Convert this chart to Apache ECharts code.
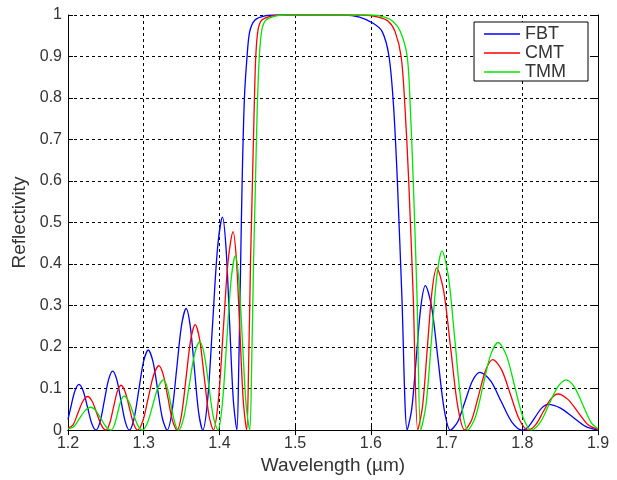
<!DOCTYPE html>
<html>
<head>
<meta charset="utf-8">
<script src="https://cdn.jsdelivr.net/npm/echarts@6/dist/echarts.min.js"></script>
<style>
  html, body { margin: 0; padding: 0; background: #fff; }
  #chart { width: 617px; height: 480px; }
</style>
</head>
<body>
<div id="chart"></div>
<script>
// wavelength (um) / reflectivity pairs
const fbtData = [
  [1.200, 0.026], [1.2037, 0.055], [1.2091, 0.094], [1.2145, 0.11],
  [1.2201, 0.094], [1.2258, 0.055], [1.2314, 0.016], [1.237, 0.0],
  [1.2425, 0.021], [1.248, 0.071], [1.2535, 0.121], [1.259, 0.142],
  [1.2645, 0.121], [1.270, 0.071], [1.2755, 0.021], [1.281, 0.0],
  [1.28725, 0.028], [1.2935, 0.0965], [1.29975, 0.165], [1.306, 0.193],
  [1.31225, 0.165], [1.3185, 0.0965], [1.32475, 0.028], [1.331, 0.0],
  [1.33725, 0.043], [1.3435, 0.1465], [1.34975, 0.25], [1.356, 0.293],
  [1.3615, 0.25], [1.367, 0.1465], [1.3725, 0.043], [1.378, 0.0],
  [1.3845, 0.075], [1.391, 0.2565], [1.3975, 0.438], [1.404, 0.513],
  [1.40875, 0.438], [1.4135, 0.2565], [1.41825, 0.075], [1.423, 0.0],
  [1.4255, 0.15], [1.428, 0.4], [1.430, 0.6], [1.433, 0.8], [1.4365, 0.9],
  [1.440, 0.96], [1.447, 0.988], [1.460, 0.998], [1.475, 1.0],
  [1.565, 1.0], [1.585, 0.995], [1.603, 0.98], [1.615, 0.96], [1.624, 0.9],
  [1.630, 0.78], [1.635, 0.6], [1.641, 0.32], [1.648, 0.0],
  [1.654, 0.051], [1.660, 0.174], [1.666, 0.297], [1.672, 0.348],
  [1.68025, 0.297], [1.6885, 0.174], [1.69675, 0.051], [1.705, 0.0],
  [1.71475, 0.020], [1.7245, 0.0695], [1.73425, 0.119], [1.744, 0.139],
  [1.758, 0.119], [1.772, 0.0695], [1.786, 0.020], [1.800, 0.0],
  [1.8085, 0.009], [1.817, 0.031], [1.8255, 0.053], [1.834, 0.062],
  [1.8505, 0.053], [1.867, 0.031], [1.8835, 0.009], [1.900, 0.0]
];
const cmtData = [
  [1.200, 0.005], [1.2065, 0.012], [1.213, 0.0405], [1.2195, 0.069], [1.226, 0.081],
  [1.232, 0.069], [1.238, 0.0405], [1.244, 0.012], [1.250, 0.0],
  [1.255, 0.016], [1.260, 0.054], [1.265, 0.092], [1.270, 0.108],
  [1.2755, 0.092], [1.281, 0.054], [1.2865, 0.016], [1.292, 0.0],
  [1.299, 0.023], [1.306, 0.0775], [1.313, 0.132], [1.320, 0.155],
  [1.326, 0.132], [1.332, 0.0775], [1.338, 0.023], [1.344, 0.0],
  [1.350, 0.037], [1.356, 0.127], [1.362, 0.217], [1.368, 0.254],
  [1.374, 0.217], [1.380, 0.127], [1.386, 0.037], [1.392, 0.0],
  [1.3985, 0.070], [1.405, 0.239], [1.4115, 0.408], [1.418, 0.478],
  [1.4225, 0.408], [1.427, 0.239], [1.4315, 0.070], [1.436, 0.0],
  [1.4385, 0.15], [1.441, 0.4], [1.443, 0.55], [1.446, 0.78], [1.448, 0.9],
  [1.451, 0.964], [1.456, 0.988], [1.470, 0.998], [1.485, 1.0],
  [1.590, 1.0], [1.610, 0.995], [1.623, 0.985], [1.632, 0.96], [1.640, 0.9],
  [1.645, 0.78], [1.650, 0.6], [1.656, 0.32], [1.662, 0.0],
  [1.66825, 0.057], [1.6745, 0.1955], [1.68075, 0.334], [1.687, 0.391],
  [1.69625, 0.334], [1.7055, 0.1955], [1.71475, 0.057], [1.724, 0.0],
  [1.73325, 0.025], [1.7425, 0.085], [1.75175, 0.145], [1.761, 0.170],
  [1.77275, 0.145], [1.7845, 0.085], [1.79625, 0.025], [1.808, 0.0],
  [1.81775, 0.013], [1.8275, 0.0435], [1.83725, 0.074], [1.847, 0.087],
  [1.86025, 0.074], [1.8735, 0.0435], [1.88675, 0.013], [1.900, 0.002]
];
const tmmData = [
  [1.200, 0.003], [1.2075, 0.008], [1.215, 0.0275], [1.2225, 0.047], [1.230, 0.055],
  [1.23675, 0.047], [1.2435, 0.0275], [1.25025, 0.008], [1.257, 0.0],
  [1.26125, 0.012], [1.2655, 0.041], [1.26975, 0.070], [1.274, 0.082],
  [1.280, 0.070], [1.286, 0.041], [1.292, 0.012], [1.298, 0.0],
  [1.305, 0.018], [1.312, 0.0605], [1.319, 0.103], [1.326, 0.121],
  [1.331, 0.103], [1.336, 0.0605], [1.341, 0.018], [1.346, 0.0],
  [1.353, 0.031], [1.360, 0.1065], [1.367, 0.182], [1.374, 0.213],
  [1.380, 0.182], [1.386, 0.1065], [1.392, 0.031], [1.398, 0.0],
  [1.40375, 0.061], [1.4095, 0.21], [1.41525, 0.359], [1.421, 0.42],
  [1.42575, 0.359], [1.4305, 0.21], [1.43525, 0.061], [1.440, 0.0],
  [1.4425, 0.15], [1.445, 0.4], [1.447, 0.55], [1.450, 0.78], [1.4527, 0.9],
  [1.456, 0.964], [1.4615, 0.988], [1.475, 0.998], [1.490, 1.0],
  [1.602, 1.0], [1.618, 0.995], [1.629, 0.985], [1.639, 0.96], [1.648, 0.9],
  [1.652, 0.78], [1.656, 0.6], [1.661, 0.32], [1.666, 0.0],
  [1.673, 0.063], [1.680, 0.216], [1.687, 0.369], [1.694, 0.432],
  [1.7025, 0.369], [1.711, 0.216], [1.7195, 0.063], [1.728, 0.0],
  [1.738, 0.031], [1.748, 0.1055], [1.758, 0.180], [1.768, 0.211],
  [1.779, 0.180], [1.790, 0.1055], [1.801, 0.031], [1.812, 0.0],
  [1.8235, 0.018], [1.835, 0.0605], [1.8465, 0.103], [1.858, 0.121],
  [1.869, 0.103], [1.880, 0.0605], [1.891, 0.018], [1.900, 0.003]
];
const seriesNames = ['FBT', 'CMT', 'TMM'];
const seriesColors = ['#0000ff', '#ff0000', '#00e600'];

const chart = echarts.init(document.getElementById('chart'));

const fontFamily = 'Liberation Sans, Arial, sans-serif';
const gridLine = { show: true, lineStyle: { color: '#000', type: [3, 3], width: 1 } };
const tickLabel = { color: '#333', fontSize: 16, fontFamily };

chart.setOption({
  animation: false,
  backgroundColor: '#fff',
  grid: { left: 68, right: 19, top: 15, bottom: 48 },
  legend: {
    data: seriesNames,
    orient: 'vertical',
    right: 29,
    top: 22,
    icon: 'rect',
    backgroundColor: '#fff',
    borderColor: '#000',
    borderWidth: 1,
    padding: [3, 22, 0, 10],
    itemGap: 1,
    itemWidth: 36,
    itemHeight: 1.5,
    textStyle: { color: '#333', fontSize: 18, fontFamily }
  },
  xAxis: [
    {
      type: 'value',
      min: 1.2,
      max: 1.9,
      interval: 0.1,
      name: 'Wavelength (µm)',
      nameLocation: 'middle',
      nameGap: 25,
      nameTextStyle: { color: '#333', fontSize: 19, fontFamily },
      axisLine: { lineStyle: { color: '#000', width: 1 } },
      axisTick: { inside: true, length: 5, lineStyle: { color: '#000' } },
      axisLabel: Object.assign({ margin: 5, formatter: v => v.toFixed(1) }, tickLabel),
      splitLine: gridLine
    },
    {
      type: 'value',
      position: 'top',
      min: 1.2,
      max: 1.9,
      interval: 0.1,
      axisLine: { lineStyle: { color: '#000', width: 1 } },
      axisTick: { inside: true, length: 5, lineStyle: { color: '#000' } },
      axisLabel: { show: false },
      splitLine: { show: false }
    }
  ],
  yAxis: [
    {
      type: 'value',
      min: 0,
      max: 1,
      interval: 0.1,
      name: 'Reflectivity',
      nameLocation: 'middle',
      nameGap: 37,
      nameTextStyle: { color: '#333', fontSize: 19, fontFamily },
      axisLine: { show: true, lineStyle: { color: '#000', width: 1 } },
      axisTick: { show: true, inside: true, length: 5, lineStyle: { color: '#000' } },
      axisLabel: Object.assign({
        margin: 6,
        formatter: v => (v === 0 ? '0' : v === 1 ? '1' : v.toFixed(1))
      }, tickLabel),
      splitLine: gridLine
    },
    {
      type: 'value',
      position: 'right',
      min: 0,
      max: 1,
      interval: 0.1,
      axisLine: { show: true, lineStyle: { color: '#000', width: 1 } },
      axisTick: { show: true, inside: true, length: 5, lineStyle: { color: '#000' } },
      axisLabel: { show: false },
      splitLine: { show: false }
    }
  ],
  series: [fbtData, cmtData, tmmData].map((d, i) => ({
    name: seriesNames[i],
    type: 'line',
    data: d,
    smooth: 0.3,
    symbol: 'none',
    color: seriesColors[i],
    lineStyle: { width: 1.3, color: seriesColors[i] }
  }))
});
</script>
</body>
</html>
